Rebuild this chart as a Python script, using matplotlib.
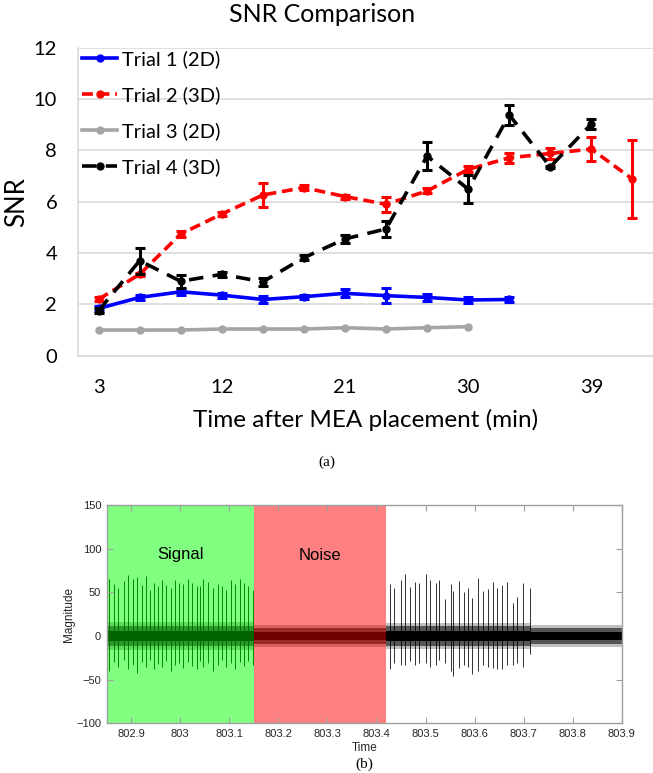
import matplotlib
matplotlib.use('Agg')
import matplotlib.pyplot as plt
from matplotlib.ticker import FormatStrFormatter
import numpy as np

# ---- panel (a) data: SNR per trial, every 3 min after MEA placement
minutes = [3, 6, 9, 12, 15, 18, 21, 24, 27, 30, 33, 36, 39, 42]
trial1 = [1.84, 2.27, 2.49, 2.36, 2.19, 2.30, 2.43, 2.34, 2.27, 2.17, 2.19]
trial1_err = [0.10, 0.10, 0.12, 0.10, 0.12, 0.08, 0.15, 0.30, 0.15, 0.10, 0.08]
trial2 = [2.20, 3.17, 4.74, 5.52, 6.26, 6.55, 6.20, 5.90, 6.42, 7.26, 7.71, 7.88, 8.05, 6.88]
trial2_err = [0.08, 0.05, 0.12, 0.08, 0.47, 0.10, 0.08, 0.30, 0.10, 0.12, 0.20, 0.20, 0.47, 1.52]
trial3 = [1.00, 1.00, 1.00, 1.04, 1.04, 1.04, 1.09, 1.04, 1.09, 1.13]
trial4 = [1.75, 3.70, 2.90, 3.17, 2.88, 3.82, 4.55, 4.94, 7.78, 6.49, 9.38, 7.36, 9.03]
trial4_err = [0.10, 0.50, 0.25, 0.10, 0.15, 0.10, 0.15, 0.32, 0.56, 0.55, 0.40, 0.05, 0.20]
labels = ['Trial 1 (2D)', 'Trial 2 (3D)', 'Trial 3 (2D)', 'Trial 4 (3D)']

# ---- panel (b) data: spike times / peaks / troughs
green_t = [802.855, 802.865, 802.874, 802.885, 802.894, 802.904, 802.911, 802.921,
           802.930, 802.938, 802.947, 802.955, 802.962, 802.971, 802.981, 802.989,
           802.998, 803.006, 803.015, 803.023, 803.034, 803.040, 803.047, 803.056,
           803.066, 803.076, 803.085, 803.093, 803.103, 803.112, 803.122, 803.130,
           803.139, 803.148]
green_peak = [65, 59, 55, 63, 70, 65, 67, 58, 69, 53, 61, 57, 64, 58, 55, 64, 61,
              59, 65, 61, 57, 57, 65, 62, 55, 59, 57, 53, 64, 59, 65, 61, 57, 53]
green_trough = [-40, -30, -36, -28, -38, -33, -42, -30, -35, -27, -38, -32, -36, -29,
                -40, -33, -31, -37, -30, -34, -38, -29, -35, -31, -40, -33, -28, -36,
                -31, -38, -30, -34, -29, -33]
black_t = [803.427, 803.435, 803.451, 803.459, 803.469, 803.479, 803.487, 803.502,
           803.510, 803.521, 803.527, 803.540, 803.552, 803.557, 803.568, 803.578,
           803.586, 803.595, 803.607, 803.617, 803.627, 803.637, 803.646, 803.656,
           803.666, 803.678, 803.687, 803.698, 803.714]
black_peak = [59, 55, 64, 71, 56, 62, 61, 71, 64, 61, 64, 42, 59, 51, 63, 50, 55, 44,
              66, 52, 54, 62, 55, 58, 62, 38, 45, 61, 55]
black_trough = [-38, -31, -33, -33, -29, -33, -31, -31, -35, -33, -27, -31, -40, -46,
                -37, -33, -35, -44, -40, -33, -35, -37, -38, -38, -33, -33, -31, -35, -21]
# background noise band: segment edges, dense core / mid / outer fuzz half-widths
band_edges = [802.85, 803.15, 803.42, 803.714, 803.9]
band_core = [6, 5, 6, 5]
band_mid = [11, 9, 11, 9]
band_fuzz = [16, 13, 15, 13]
signal_span = (802.85, 803.15)
noise_span = (803.15, 803.42)

W, H = 653, 773
fig = plt.figure(figsize=(W / 100, H / 100), dpi=100)

# ================= (a) =================
plt.rcParams['font.family'] = ['Lato', 'DejaVu Sans']
ax = fig.add_axes([78 / W, 1 - 355.7 / H, (653 - 78) / W, (355.7 - 47.7) / H])

series = [
    (trial1, trial1_err, '#0000ff', '-'),
    (trial2, trial2_err, '#ff0000', (0, (3, 1.6))),
    (trial3, None, '#a5a5a5', '-'),
    (trial4, trial4_err, '#000000', (0, (4, 2.6))),
]
for (vals, err, col, ls), lab in zip(series, labels):
    xs = minutes[:len(vals)]
    if err is not None:
        ax.errorbar(xs, vals, yerr=err, fmt='none', ecolor=col, elinewidth=2.2,
                    capsize=3.5, capthick=2.2, zorder=3)
    ax.plot(xs, vals, color=col, linestyle=ls, linewidth=2.6, marker='o',
            markersize=5, label=lab, zorder=3)

ax.set_xlim(1.5, 43.5)
ax.set_ylim(0, 12)
ax.set_xticks([3, 12, 21, 30, 39])
ax.set_yticks(range(0, 13, 2))
ax.grid(axis='y', color='#d9d9d9', linewidth=1.2)
ax.set_axisbelow(True)
for s in ['top', 'right']:
    ax.spines[s].set_visible(False)
for s in ['left', 'bottom']:
    ax.spines[s].set_color('#d9d9d9')
    ax.spines[s].set_linewidth(1.2)
ax.tick_params(length=0, labelsize=14.5, colors='#000000')
ax.tick_params(axis='y', pad=15)
ax.tick_params(axis='x', pad=17)
ax.set_xlabel('Time after MEA placement (min)', fontsize=17.5, labelpad=9)
ax.set_ylabel('SNR', fontsize=18.5)
ax.yaxis.set_label_coords(-49 / 575, 0.5)
fig.text(0.493, 1 - 14 / H, 'SNR Comparison', ha='center', va='center', fontsize=18)

ax.legend(loc='upper left', bbox_to_anchor=(4 / 575, 0.993), frameon=False,
          fontsize=14.5, handlelength=1.75, handletextpad=0.25, labelspacing=0.9,
          borderpad=0, borderaxespad=0)

fig.text(0.5, 1 - 462 / H, '(a)', ha='center', va='center', fontsize=11,
         family='Liberation Serif')

# ================= (b) =================
plt.rcParams['font.family'] = ['Liberation Sans', 'DejaVu Sans']
bx = fig.add_axes([106.7 / W, 1 - 723.3 / H, 515 / W, 218.3 / H])
bx.axvspan(*signal_span, color='#80ff80', lw=0, zorder=0)
bx.axvspan(*noise_span, color='#ff8080', lw=0, zorder=0)

band_cols = ['#006400', '#6e0000', '#000000', '#000000']
for i in range(len(band_core)):
    xs = [band_edges[i], band_edges[i + 1]]
    bx.fill_between(xs, -band_fuzz[i], band_fuzz[i], color=band_cols[i],
                    alpha=0.25, lw=0, zorder=2)
    bx.fill_between(xs, -band_mid[i], band_mid[i], color=band_cols[i],
                    alpha=0.55, lw=0, zorder=2)
    bx.fill_between(xs, -band_core[i], band_core[i], color=band_cols[i],
                    lw=0, zorder=2)

bx.vlines(green_t, green_trough, green_peak, color='#008a00', linewidth=0.7, zorder=1.5)
bx.vlines(black_t, black_trough, black_peak, color='#303030', linewidth=0.7, zorder=1.5)

bx.text(803.0, 93, 'Signal', ha='center', va='center', fontsize=12)
bx.text(803.285, 92, 'Noise', ha='center', va='center', fontsize=12)

bx.set_xlim(802.85, 803.9)
bx.set_ylim(-100, 150)
bx.set_xticks(np.round(np.arange(802.9, 803.91, 0.1), 1))
bx.set_yticks(range(-100, 151, 50))
bx.xaxis.set_major_formatter(FormatStrFormatter('%g'))
for s in bx.spines.values():
    s.set_color('#a0a0a0')
    s.set_linewidth(1.0)
    s.set_zorder(5)
bx.tick_params(direction='in', length=4, width=0.8, color='#a0a0a0',
               labelsize=8, labelcolor='#262626', top=True, right=True, pad=4)
bx.set_xlabel('Time', fontsize=8.5, color='#262626', labelpad=2)
bx.set_ylabel('Magnitude', fontsize=8.5, color='#262626', labelpad=1)

fig.text(364 / W, 1 - 764 / H, '(b)', ha='center', va='center', fontsize=11,
         family='Liberation Serif')

fig.savefig('out.png', dpi=100)
